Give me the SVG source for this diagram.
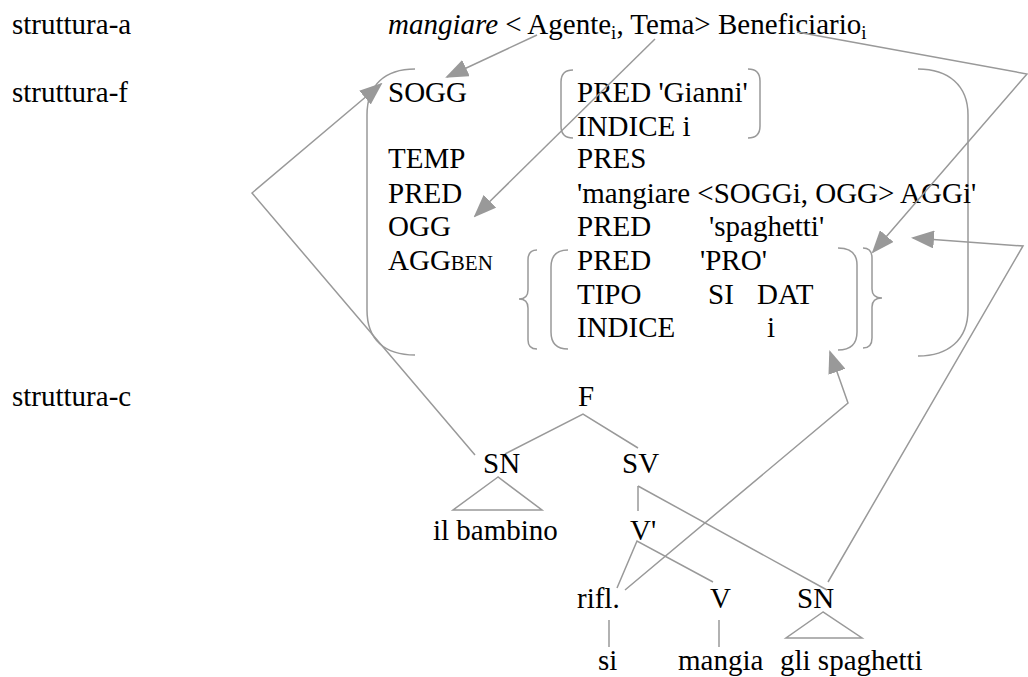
<svg xmlns="http://www.w3.org/2000/svg" width="1028" height="677" viewBox="0 0 1028 677" font-family="'Liberation Serif', 'DejaVu Serif', serif" font-size="29">
  <style>
    text { font-family: 'Liberation Serif', 'DejaVu Serif', serif; font-size: 29px; fill: #000; }
    .sub { font-size: 19px; }
    .sc { font-size: 21px; }
    .ln { fill: none; stroke: #999; stroke-width: 1.5; }
    .arr { fill: none; stroke: #999; stroke-width: 1.5; marker-end: url(#ah); }
  </style>
  <defs>
    <marker id="ah" viewBox="0 0 23 18" refX="21" refY="9" markerWidth="23" markerHeight="18" markerUnits="userSpaceOnUse" orient="auto">
      <path d="M0,0 L23,9 L0,18 z" fill="#999"/>
    </marker>
  </defs>

  <!-- level labels -->
  <g id="labels">
    <text x="12" y="34">struttura-a</text>
    <text x="12" y="102">struttura-f</text>
    <text x="12" y="406">struttura-c</text>
  </g>

  <!-- argument structure -->
  <g id="a-structure">
    <text x="388" y="34"><tspan font-style="italic">mangiare</tspan> &lt; Agente<tspan class="sub" dy="5">i</tspan><tspan dy="-5">, Tema&gt; Beneficiario</tspan><tspan class="sub" dy="5">i</tspan></text>
  </g>

  <!-- functional structure -->
  <g id="f-structure">
    <path class="ln" d="M415,69 C385,69 367,85 367,115 L367,310 C367,340 385,355 415,355"/>
    <path class="ln" d="M918,69 C948,69 968,85 968,115 L968,310 C968,340 948,356 918,356"/>
    <text x="388" y="102">SOGG</text>
    <text x="388" y="168">TEMP</text>
    <text x="388" y="203">PRED</text>
    <text x="388" y="236">OGG</text>
    <text x="388" y="270">AGG<tspan class="sc">BEN</tspan></text>
  </g>

  <g id="f-sogg">
    <path class="ln" d="M573,70 Q561,70 561,82 L561,126 Q561,138 573,138"/>
    <path class="ln" d="M748,69 Q760,69 760,81 L760,126 Q760,138 748,138"/>
    <text x="577" y="102">PRED 'Gianni'</text>
    <text x="577" y="136">INDICE i</text>
  </g>

  <g id="f-values">
    <text x="577" y="168">PRES</text>
    <text x="577" y="203">'mangiare &lt;SOGGi, OGG&gt; AGGi'</text>
    <text x="577" y="236">PRED</text>
    <text x="709" y="236">'spaghetti'</text>
  </g>

  <g id="f-aggben">
    <path class="ln" d="M537,250 Q528,250 528,260 L528,290 Q528,299 519,299 Q528,299 528,308 L528,340 Q528,349 537,349"/>
    <path class="ln" d="M568,250 Q551,250 551,267 L551,332 Q551,349 568,349"/>
    <path class="ln" d="M838,248 Q857,248 857,265 L857,332 Q857,350 838,350"/>
    <path class="ln" d="M863,248 Q872,248 872,258 L872,289 Q872,298 882,298 Q872,298 872,307 L872,338 Q872,348 863,348"/>
    <text x="577" y="270">PRED</text>
    <text x="700" y="270">'PRO'</text>
    <text x="577" y="304">TIPO</text>
    <text x="708" y="304">SI</text>
    <text x="757" y="304">DAT</text>
    <text x="577" y="337">INDICE</text>
    <text x="767" y="337">i</text>
  </g>

  <!-- constituent structure tree -->
  <g id="c-tree">
    <path class="ln" d="M505,454 L583,414 L638,448"/>
    <path class="ln" d="M498,477 L453,510 L542,510 Z"/>
    <path class="ln" d="M638,486 L638,511"/>
    <path class="ln" d="M638,486 L827,590"/>
    <path class="ln" d="M617,588 L637,541 L713,582"/>
    <path class="ln" d="M609,620 L609,647"/>
    <path class="ln" d="M719,620 L719,647"/>
    <path class="ln" d="M823,612 L786,638 L862,638 Z"/>
    <text x="578" y="406">F</text>
    <text x="483" y="473">SN</text>
    <text x="622" y="473">SV</text>
    <text x="433" y="540">il bambino</text>
    <text x="630" y="540">V'</text>
    <text x="577" y="608">rifl.</text>
    <text x="710" y="608">V</text>
    <text x="797" y="608">SN</text>
    <text x="598" y="670">si</text>
    <text x="678" y="670">mangia</text>
    <text x="780" y="670">gli spaghetti</text>
  </g>

  <!-- correspondence arrows -->
  <g id="connectors">
    <path class="arr" d="M537,35 L447,77"/>
    <path class="arr" d="M655,39 L475,216"/>
    <path class="arr" d="M797,32 L1027,74 L873,252"/>
    <path class="arr" d="M475,455 L252,193 L381,84"/>
    <path class="arr" d="M625,590 L848,403 L830,352"/>
    <path class="arr" d="M828,582 L1023,246 L913,238"/>
  </g>
</svg>
